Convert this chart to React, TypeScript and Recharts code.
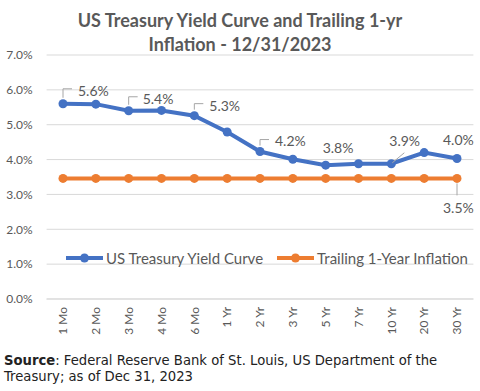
import React from 'react'
import { CartesianGrid, LabelList, Line, LineChart, XAxis, YAxis } from 'recharts'

const maturities = ['1 Mo', '2 Mo', '3 Mo', '4 Mo', '6 Mo', '1 Yr', '2 Yr', '3 Yr', '5 Yr', '7 Yr', '10 Yr', '20 Yr', '30 Yr']
const treasuryYield = [5.6, 5.59, 5.4, 5.41, 5.26, 4.79, 4.23, 4.01, 3.84, 3.88, 3.88, 4.2, 4.03]
const trailingInflation = [3.46, 3.46, 3.46, 3.46, 3.46, 3.46, 3.46, 3.46, 3.46, 3.46, 3.46, 3.46, 3.46]
const yTicks = [0, 1, 2, 3, 4, 5, 6, 7]

const BLUE = '#4472C4'
const ORANGE = '#ED7D31'
const GREY = '#595959'
const LEADER = '#A6A6A6'
const FONT = 'Lato, "Open Sans", sans-serif'

// where Excel put the data callouts (offsets from the point)
type Placement = { kind: 'bracket' | 'diag' | 'plain' | 'down'; dx: number; dy: number }
const yieldLabels: Record<string, Placement> = {
  '1 Mo': { kind: 'bracket', dx: 15, dy: -13 },
  '3 Mo': { kind: 'bracket', dx: 14, dy: -12 },
  '6 Mo': { kind: 'bracket', dx: 15, dy: -10 },
  '2 Yr': { kind: 'bracket', dx: 15, dy: -10 },
  '5 Yr': { kind: 'plain', dx: -3, dy: -17 },
  '10 Yr': { kind: 'diag', dx: -2, dy: -23 },
  '30 Yr': { kind: 'plain', dx: -14, dy: -18 },
}
const inflationLabels: Record<string, Placement> = {
  '30 Yr': { kind: 'down', dx: -14, dy: 30 },
}

const data = maturities.map((name, i) => ({
  name,
  treasury: treasuryYield[i],
  inflation: trailingInflation[i],
}))

const makeLabel = (placements: Record<string, Placement>) => (props: any) => {
  const { x, y, value, index } = props
  const p = placements[maturities[index]]
  if (!p) return null
  const text = `${Number(value).toFixed(1)}%`
  let leader = null
  if (p.kind === 'bracket') {
    leader = <path d={`M${x},${y - 6}V${y + p.dy - 2}H${x + 9}`} stroke={LEADER} fill="none" strokeWidth={1} />
  } else if (p.kind === 'diag') {
    leader = <path d={`M${x + 1},${y - 1}L${x + 13},${y - 11}`} stroke={LEADER} fill="none" strokeWidth={1} />
  } else if (p.kind === 'down') {
    leader = <path d={`M${x},${y + 5}V${y + 17}`} stroke={LEADER} fill="none" strokeWidth={1} />
  }
  return (
    <g>
      {leader}
      <text x={x + p.dx} y={y + p.dy} dy="0.35em" textAnchor="start" fill={GREY} fontSize={14} fontFamily={FONT}>
        {text}
      </text>
    </g>
  )
}

const MaturityTick = ({ x, y, payload }: any) => (
  <text
    x={0}
    y={0}
    dy="0.35em"
    textAnchor="end"
    transform={`translate(${x},${y}) rotate(-90)`}
    fill={GREY}
    fontSize={12}
    fontFamily={FONT}
  >
    {payload.value}
  </text>
)

const LegendItem = ({ color, label }: { color: string; label: string }) => (
  <div style={{ display: 'flex', alignItems: 'center' }}>
    <svg width={37} height={10}>
      <line x1={0} y1={5} x2={37} y2={5} stroke={color} strokeWidth={4} />
      <circle cx={18.5} cy={5} r={4.5} fill={color} />
    </svg>
    <span style={{ marginLeft: 3, color: GREY, fontSize: 15, fontFamily: FONT, whiteSpace: 'nowrap' }}>{label}</span>
  </div>
)

export default function App() {
  return (
    <div style={{ position: 'absolute', left: 0, top: 0, width: 480, height: 391, background: '#fff' }}>
      <div
        style={{
          position: 'absolute',
          top: 8,
          left: 0,
          width: 480,
          textAlign: 'center',
          fontFamily: FONT,
          fontWeight: 'bold',
          fontSize: 18,
          lineHeight: '24px',
          color: GREY,
        }}
      >
        US Treasury Yield Curve and Trailing 1-yr
        <br />
        Inflation - 12/31/2023
      </div>
      <div style={{ position: 'absolute', top: 0, left: 0 }}>
        <LineChart width={480} height={345} data={data} margin={{ top: 55, right: 6.6, left: 0, bottom: 5 }}>
          <CartesianGrid vertical={false} stroke="#D9D9D9" strokeWidth={1} />
          <XAxis
            dataKey="name"
            axisLine={{ stroke: '#D9D9D9' }}
            tickLine={false}
            padding={{ left: 16.4, right: 16.4 }}
            height={41}
            interval={0}
            tick={<MaturityTick />}
          />
          <YAxis
            width={46.6}
            domain={[0, 7]}
            ticks={yTicks}
            axisLine={false}
            tickLine={false}
            tickMargin={8}
            tickFormatter={(v: number) => `${v.toFixed(1)}%`}
            tick={{ fill: GREY, fontSize: 12, fontFamily: FONT }}
          />
          <Line
            dataKey="treasury"
            stroke={BLUE}
            strokeWidth={4}
            dot={{ r: 4.5, fill: BLUE, stroke: BLUE, strokeWidth: 0 }}
            activeDot={false}
            isAnimationActive={false}
          >
            <LabelList dataKey="treasury" content={makeLabel(yieldLabels)} />
          </Line>
          <Line
            dataKey="inflation"
            stroke={ORANGE}
            strokeWidth={4}
            dot={{ r: 4.5, fill: ORANGE, stroke: ORANGE, strokeWidth: 0 }}
            activeDot={false}
            isAnimationActive={false}
          >
            <LabelList dataKey="inflation" content={makeLabel(inflationLabels)} />
          </Line>
        </LineChart>
      </div>
      <div style={{ position: 'absolute', top: 249, left: 66, width: 414, display: 'flex', gap: 14 }}>
        <LegendItem color={BLUE} label="US Treasury Yield Curve" />
        <LegendItem color={ORANGE} label="Trailing 1-Year Inflation" />
      </div>
      <div
        style={{
          position: 'absolute',
          top: 353,
          left: 4,
          width: 476,
          fontFamily: '"DejaVu Sans", Verdana, sans-serif',
          fontSize: 13.2,
          lineHeight: '16px',
          color: '#222',
          whiteSpace: 'nowrap',
        }}
      >
        <span style={{ fontWeight: 'bold' }}>Source</span>: Federal Reserve Bank of St. Louis, US Department of the
        <br />
        Treasury; as of Dec 31, 2023
      </div>
    </div>
  )
}
